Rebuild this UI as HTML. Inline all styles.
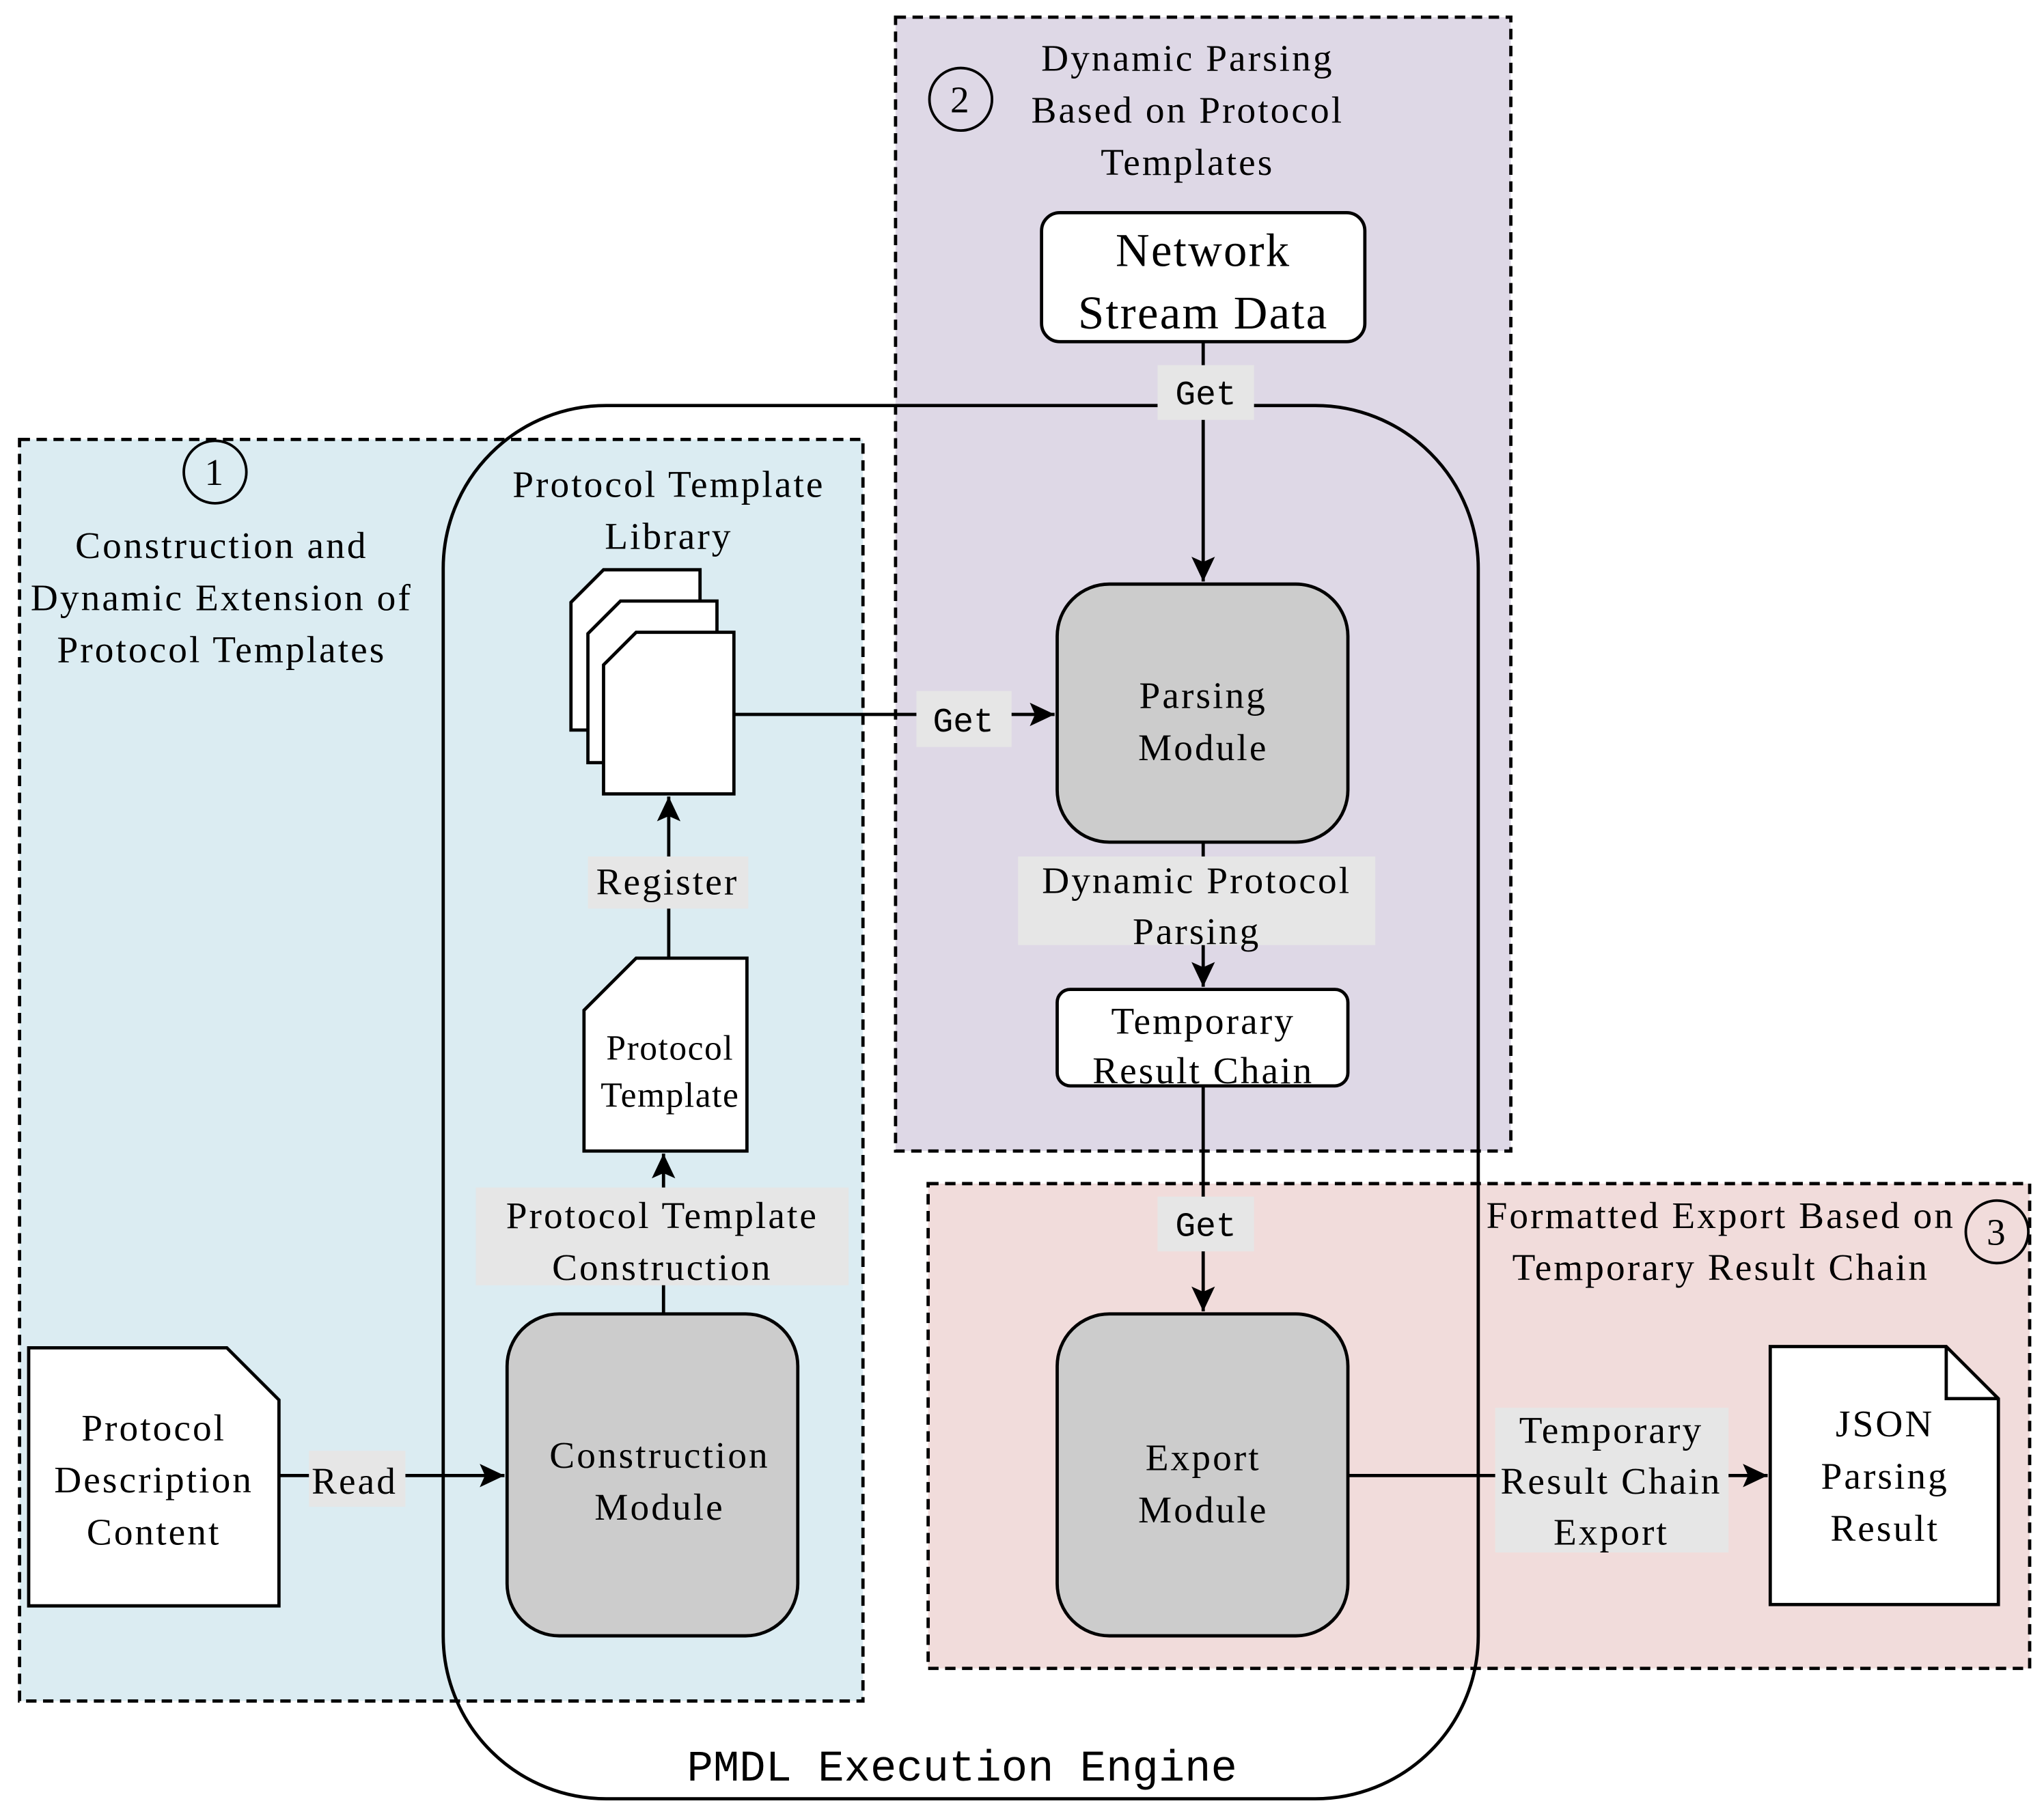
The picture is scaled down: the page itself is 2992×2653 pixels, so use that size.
<!DOCTYPE html>
<html><head><meta charset="utf-8"><style>html,body{margin:0;padding:0;background:#fff}svg{display:block}</style></head><body>
<svg xmlns="http://www.w3.org/2000/svg" width="2992" height="2653" viewBox="0 0 1568 1390" font-family="Liberation Serif, serif">
<defs><marker id="b" markerWidth="20" markerHeight="20" refX="19" refY="10" orient="auto" markerUnits="userSpaceOnUse"><path d="M0,1 L19,10 L0,19 L4,10 Z" fill="#000"/></marker></defs>
<rect width="1568" height="1390" fill="#fff"/>
<rect x="15" y="337" width="647" height="968" fill="#dbecf2" stroke="#000" stroke-width="2.5" stroke-dasharray="8,5"/>
<rect x="687" y="13" width="472" height="870" fill="#ded8e6" stroke="#000" stroke-width="2.5" stroke-dasharray="8,5"/>
<rect x="712" y="908" width="845" height="372" fill="#f1dcdb" stroke="#000" stroke-width="2.5" stroke-dasharray="8,5"/>
<rect x="340" y="311" width="794" height="1069" rx="125" fill="none" stroke="#000" stroke-width="2.5"/>
<text x="738" y="1366" font-family="Liberation Mono, monospace" font-size="33.5" text-anchor="middle">PMDL Execution Engine</text>
<g fill="none" stroke="#000" stroke-width="2"><circle cx="165" cy="362" r="24"/><circle cx="737" cy="76" r="24"/><circle cx="1532" cy="945" r="24"/></g>
<g font-size="29" text-anchor="middle" letter-spacing="1.6">
<text x="165" y="372">1</text><text x="737" y="86">2</text><text x="1532" y="955">3</text>
<text x="170" y="428">Construction and</text><text x="170" y="468">Dynamic Extension of</text><text x="170" y="508">Protocol Templates</text>
<text x="911" y="54">Dynamic Parsing</text><text x="911" y="94">Based on Protocol</text><text x="911" y="134">Templates</text>
<text x="1320" y="942">Formatted Export Based on</text><text x="1320" y="982">Temporary Result Chain</text>
<text x="513" y="381">Protocol Template</text><text x="513" y="421">Library</text>
</g>
<g stroke="#000" stroke-width="2.5">
<rect x="799" y="163" width="248" height="99" rx="14" fill="#fff"/>
<rect x="811" y="448" width="223" height="198" rx="40" fill="#cccccc"/>
<rect x="811" y="759" width="223" height="74" rx="10" fill="#fff"/>
<rect x="811" y="1008" width="223" height="247" rx="40" fill="#cccccc"/>
<rect x="389" y="1008" width="223" height="247" rx="40" fill="#cccccc"/>
<path d="M22,1034 H174 L214,1074 V1232 H22 Z" fill="#fff"/>
<path d="M1358,1033 H1493 L1533,1073 V1231 H1358 Z" fill="#fff"/>
<path d="M1493,1033 V1073 H1533" fill="none"/>
<path d="M488,735 H573 V883 H448 V775 Z" fill="#fff"/>
<path d="M463,437 H537 V560 H438 V462 Z" fill="#fff"/>
<path d="M476,461 H550 V585 H451 V486 Z" fill="#fff"/>
<path d="M488,485 H563 V609 H463 V510 Z" fill="#fff"/>
</g>
<g font-size="36" text-anchor="middle" letter-spacing="1.2"><text x="923" y="204">Network</text><text x="923" y="252">Stream Data</text></g>
<g font-size="29" text-anchor="middle" letter-spacing="1.6">
<text x="923" y="543">Parsing</text><text x="923" y="583">Module</text>
<text x="923" y="793">Temporary</text><text x="923" y="831">Result Chain</text>
<text x="923" y="1128">Export</text><text x="923" y="1168">Module</text>
<text x="506" y="1126">Construction</text><text x="506" y="1166">Module</text>
<text x="118" y="1105">Protocol</text><text x="118" y="1145">Description</text><text x="118" y="1185">Content</text>
<text x="1446" y="1102">JSON</text><text x="1446" y="1142">Parsing</text><text x="1446" y="1182">Result</text>
<text x="514" y="813" font-size="27" letter-spacing="0.8">Protocol</text><text x="514" y="849" font-size="27" letter-spacing="0.8">Template</text>
</g>
<g stroke="#000" stroke-width="2.5" fill="none">
<line x1="923" y1="262" x2="923" y2="446" marker-end="url(#b)"/>
<line x1="563" y1="548" x2="809" y2="548" marker-end="url(#b)"/>
<line x1="923" y1="646" x2="923" y2="757" marker-end="url(#b)"/>
<line x1="923" y1="833" x2="923" y2="1006" marker-end="url(#b)"/>
<line x1="1034" y1="1132" x2="1356" y2="1132" marker-end="url(#b)"/>
<line x1="509" y1="1008" x2="509" y2="885" marker-end="url(#b)"/>
<line x1="513" y1="735" x2="513" y2="611" marker-end="url(#b)"/>
<line x1="214" y1="1132" x2="387" y2="1132" marker-end="url(#b)"/>
</g>
<g fill="#e6e6e6">
<rect x="888" y="280" width="74" height="42"/><rect x="703" y="530" width="73" height="43"/>
<rect x="781" y="657" width="274" height="68"/><rect x="888" y="918" width="74" height="42"/>
<rect x="1147" y="1080" width="179" height="111"/><rect x="365" y="911" width="286" height="75"/>
<rect x="451" y="657" width="123" height="40"/><rect x="237" y="1113" width="74" height="43"/>
</g>
<g font-family="Liberation Mono, monospace" font-size="26" text-anchor="middle">
<text x="925" y="310">Get</text><text x="739" y="561">Get</text><text x="925" y="948">Get</text>
</g>
<g font-size="29" text-anchor="middle" letter-spacing="1.6">
<text x="918" y="685">Dynamic Protocol</text><text x="918" y="724">Parsing</text>
<text x="1236" y="1107">Temporary</text><text x="1236" y="1146">Result Chain</text><text x="1236" y="1185">Export</text>
<text x="508" y="942">Protocol Template</text><text x="508" y="982">Construction</text>
<text x="512" y="686">Register</text><text x="272" y="1146">Read</text>
</g>
</svg>
</body></html>
